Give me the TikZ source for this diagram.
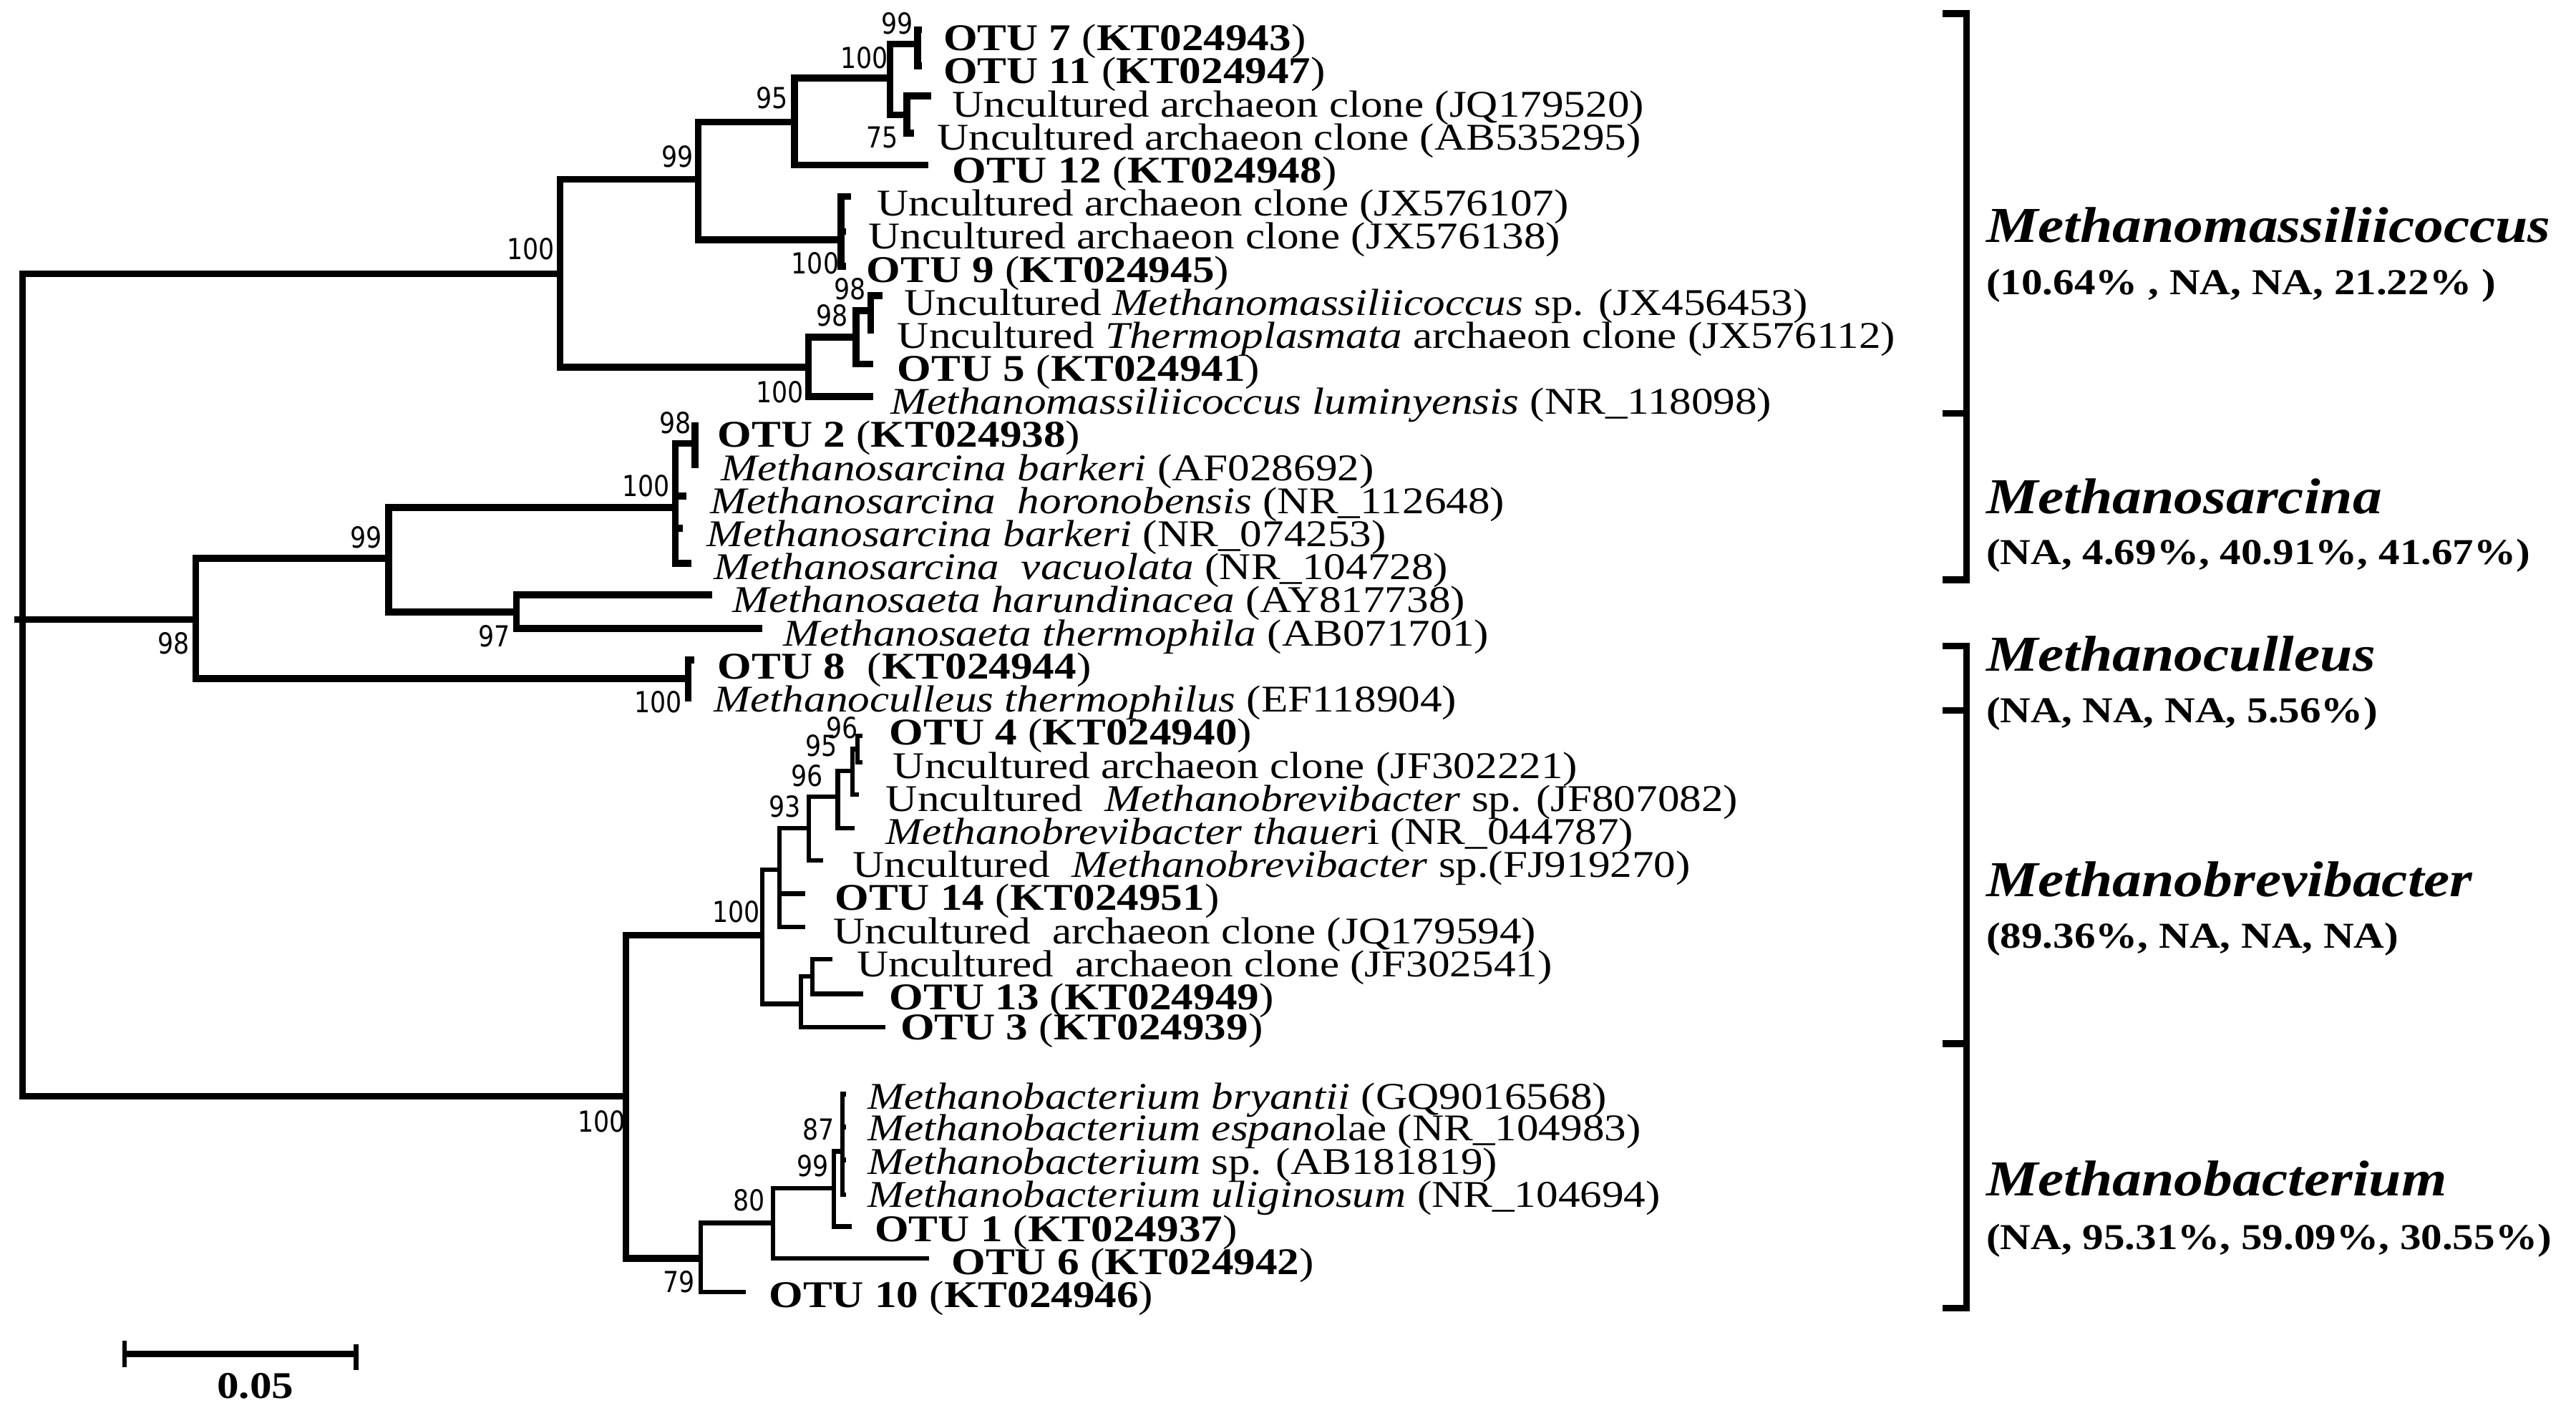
\documentclass[tikz,border=0pt]{standalone}
\usepackage{fontspec}
\setmainfont{Liberation Serif}[FakeStretch=1.16]
\newfontfamily\bootfont{DejaVu Sans}[FakeStretch=0.86]
\usetikzlibrary{positioning}

\tikzset{
  branch/.style={line width=2.7pt},
  twig/.style={line width=1.8pt},
  leaf/.style={anchor=base west, inner sep=0pt, font=\fontsize{15}{18}\selectfont},
  boot/.style={anchor=base east, inner sep=0pt, font=\bootfont\fontsize{11.5}{13}\selectfont},
  genus/.style={anchor=base west, inner sep=0pt, font=\fontsize{20}{24}\selectfont\bfseries\itshape},
  share/.style={anchor=base west, inner sep=0pt, font=\fontsize{14.5}{17}\selectfont\bfseries},
  scalelab/.style={anchor=base, inner sep=0pt, font=\fontsize{15}{18}\selectfont\bfseries}
}

\begin{document}
\begin{tikzpicture}[x=0.022953cm, y=-0.022953cm]
        \useasboundingbox (0,0) rectangle (1568,860);

        % Root
        \coordinate (root) at (13.7,377);

        % Methanomassiliicoccus clade
        \coordinate (a1) at (341,166.7);
        \coordinate (a2) at (425,109.2);
        \coordinate (a3) at (483.5,74.2);
        \coordinate (a4) at (541.8,47.5);
        \coordinate (a5) at (558.6,26.7);
        \coordinate (a6) at (552,70);
        \coordinate (a7) at (512,145.9);
        \coordinate (a8) at (492,223.4);
        \coordinate (a9) at (521,205.3);
        \coordinate (a10) at (530,189);
        \coordinate (otu7) at (561,18);
        \coordinate (otu11) at (561,40);
        \coordinate (jq179520) at (567,58.4);
        \coordinate (ab535295) at (556.5,81);
        \coordinate (otu12) at (565,100.5);
        \coordinate (jx576107) at (518,119.5);
        \coordinate (jx576138) at (515,141);
        \coordinate (otu9) at (515,162);
        \coordinate (jx456453) at (537,180);
        \coordinate (jx576112) at (532,201);
        \coordinate (otu5) at (531.6,221.5);
        \coordinate (nr118098) at (531.5,241.3);

        % Methanosarcina / Methanosaeta / Methanoculleus clade
        \coordinate (b1) at (119.2,377);
        \coordinate (b2) at (236.6,339.8);
        \coordinate (b3) at (411,309);
        \coordinate (b4) at (423,270);
        \coordinate (b5) at (314.3,372.5);
        \coordinate (b6) at (419,413);
        \coordinate (otu2) at (425,259);
        \coordinate (af028692) at (425,283);
        \coordinate (nr112648) at (418,302);
        \coordinate (nr074253) at (415.5,321.6);
        \coordinate (nr104728) at (421,342.8);
        \coordinate (ay817738) at (433.5,362);
        \coordinate (ab071701) at (464,382.6);
        \coordinate (otu8) at (422.7,401.6);
        \coordinate (ef118904) at (421,424.8);

        % Methanobrevibacter / Methanobacterium clade
        \coordinate (c1) at (381,667.3);
        \coordinate (c2) at (464,569.3);
        \coordinate (c3) at (474.4,529.4);
        \coordinate (c4) at (492.2,504);
        \coordinate (c5) at (510,485);
        \coordinate (c6) at (518.9,469.2);
        \coordinate (c7) at (521.9,456);
        \coordinate (c8) at (487.6,611);
        \coordinate (c9) at (494.4,594.4);
        \coordinate (c10) at (426.5,766);
        \coordinate (c11) at (470.6,744.3);
        \coordinate (c12) at (507.6,723.3);
        \coordinate (c13) at (512.7,700.8);
        \coordinate (otu4) at (525,448);
        \coordinate (jf302221) at (525,464);
        \coordinate (jf807082) at (523,483.7);
        \coordinate (nr044787) at (520,504);
        \coordinate (fj919270) at (501,523.6);
        \coordinate (otu14) at (490,544);
        \coordinate (jq179594) at (490,564.2);
        \coordinate (jf302541) at (506.8,583.9);
        \coordinate (otu13) at (525.5,604.9);
        \coordinate (otu3) at (538.9,625.3);
        \coordinate (gq9016568) at (515,666);
        \coordinate (nr104983) at (515,686);
        \coordinate (ab181819) at (515,706);
        \coordinate (nr104694) at (515,727);
        \coordinate (otu1) at (518.5,746.5);
        \coordinate (otu6) at (565.7,766);
        \coordinate (otu10) at (453.9,786.5);

        % Branches
        \draw[branch] (root) -- ++(-5,0);
        \draw[branch] (a1) -| (root) |- (c1);
        \draw[branch] (root) -- (b1);

        \draw[branch] (a2) -| (a1) |- (a8);
        \draw[branch] (a3) -| (a2) |- (a7);
        \draw[branch] (a4) -| (a3) |- (otu12);
        \draw[branch] (a5) -| (a4) |- (a6);
        \draw[branch] (otu7) -| (a5) |- (otu11);
        \draw[branch] (jq179520) -| (a6) |- (ab535295);
        \draw[branch] (jx576107) -| (a7) |- (otu9);
        \draw[branch] (a7 |- jx576138) -- (jx576138);
        \draw[branch] (a9) -| (a8) |- (nr118098);
        \draw[branch] (a10) -| (a9) |- (otu5);
        \draw[branch] (jx456453) -| (a10) |- (jx576112);

        \draw[branch] (b2) -| (b1) |- (b6);
        \draw[branch] (b3) -| (b2) |- (b5);
        \draw[branch] (b4) -| (b3) |- (nr104728);
        \draw[branch] (b3 |- nr112648) -- (nr112648);
        \draw[branch] (b3 |- nr074253) -- (nr074253);
        \draw[branch] (otu2) -| (b4) |- (af028692);
        \draw[branch] (ay817738) -| (b5) |- (ab071701);
        \draw[branch] (otu8) -| (b6) |- (ef118904);

        \draw[branch] (c2) -| (c1) |- (c10);
        \draw[twig] (c3) -| (c2) |- (c8);
        \draw[twig] (c4) -| (c3) |- (jq179594);
        \draw[twig] (c3 |- otu14) -- (otu14);
        \draw[twig] (c5) -| (c4) |- (fj919270);
        \draw[twig] (c6) -| (c5) |- (nr044787);
        \draw[twig] (c7) -| (c6) |- (jf807082);
        \draw[twig] (otu4) -| (c7) |- (jf302221);
        \draw[twig] (c9) -| (c8) |- (otu3);
        \draw[twig] (jf302541) -| (c9) |- (otu13);
        \draw[twig] (c11) -| (c10) |- (otu10);
        \draw[twig] (c12) -| (c11) |- (otu6);
        \draw[twig] (c13) -| (c12) |- (otu1);
        \draw[twig] (gq9016568) -| (c13) |- (nr104694);
        \draw[twig] (c13 |- nr104983) -- (nr104983);
        \draw[twig] (c13 |- ab181819) -- (ab181819);

        % Bootstrap values
        \node[boot] (s-a5) at (556,20.5) {99};
        \node[boot] (s-a4) at (541,41.5) {100};
        \node[boot] (s-a3) at (480,65.8) {95};
        \node[boot] (s-a6) at (547,90) {75};
        \node[boot] (s-a2) at (422.5,101.7) {99};
        \node[boot] (s-a1) at (338,158) {100};
        \node[boot] (s-a7) at (511,166.5) {100};
        \node[boot] (s-a10) at (527.5,182.5) {98};
        \node[boot] (s-a9) at (516.6,198.3) {98};
        \node[boot] (s-a8) at (489.5,245) {100};
        \node[boot] (s-b4) at (421,263.6) {98};
        \node[boot] (s-b3) at (408,302) {100};
        \node[boot] (s-b2) at (233,333.3) {99};
        \node[boot] (s-b5) at (310.7,393.6) {97};
        \node[boot] (s-b1) at (115.6,398) {98};
        \node[boot] (s-b6) at (415.5,433.6) {100};
        \node[boot] (s-c7) at (522.5,449.5) {96};
        \node[boot] (s-c6) at (510,460.4) {95};
        \node[boot] (s-c5) at (501,478.6) {96};
        \node[boot] (s-c4) at (487.8,497.4) {93};
        \node[boot] (s-c3) at (463,561.4) {100};
        \node[boot] (s-c1) at (381,689) {100};
        \node[boot] (s-c13) at (508.3,694) {87};
        \node[boot] (s-c12) at (504.7,716) {99};
        \node[boot] (s-c11) at (466,737) {80};
        \node[boot] (s-c10) at (423.4,786.5) {79};

        % Leaf labels
        \node[leaf] (l-otu7) at (574,30.8) {\textbf{OTU 7} (\textbf{KT024943})};
        \node[leaf] (l-otu11) at (574,50.9) {\textbf{OTU 11} (\textbf{KT024947})};
        \node[leaf] (l-jq179520) at (579.4,71.1) {Uncultured archaeon clone (JQ179520)};
        \node[leaf] (l-ab535295) at (570.2,91.2) {Uncultured archaeon clone (AB535295)};
        \node[leaf] (l-otu12) at (579.4,111.3) {\textbf{OTU 12} (\textbf{KT024948})};
        \node[leaf] (l-jx576107) at (533.5,131.4) {Uncultured archaeon clone (JX576107)};
        \node[leaf] (l-jx576138) at (528.5,151.5) {Uncultured archaeon clone (JX576138)};
        \node[leaf] (l-otu9) at (527.2,171.7) {\textbf{OTU 9} (\textbf{KT024945})};
        \node[leaf] (l-jx456453) at (550.2,191.8) {Uncultured \textit{Methanomassiliicoccus} sp. (JX456453)};
        \node[leaf] (l-jx576112) at (546,211.9) {Uncultured \textit{Thermoplasmata} archaeon clone (JX576112)};
        \node[leaf] (l-otu5) at (546,232) {\textbf{OTU 5} (\textbf{KT024941})};
        \node[leaf] (l-nr118098) at (541.8,252.2) {\textit{Methanomassiliicoccus luminyensis} (NR\_118098)};
        \node[leaf] (l-otu2) at (436.6,272.3) {\textbf{OTU 2} (\textbf{KT024938})};
        \node[leaf] (l-af028692) at (438.8,292.4) {\textit{Methanosarcina barkeri} (AF028692)};
        \node[leaf] (l-nr112648) at (432.2,312.6) {\textit{Methanosarcina\ \ horonobensis} (NR\_112648)};
        \node[leaf] (l-nr074253) at (430,332.7) {\textit{Methanosarcina barkeri} (NR\_074253)};
        \node[leaf] (l-nr104728) at (434.4,352.8) {\textit{Methanosarcina\ \ vacuolata} (NR\_104728)};
        \node[leaf] (l-ay817738) at (445.5,372.9) {\textit{Methanosaeta harundinacea} (AY817738)};
        \node[leaf] (l-ab071701) at (476.6,393.1) {\textit{Methanosaeta thermophila} (AB071701)};
        \node[leaf] (l-otu8) at (436.6,413.2) {\textbf{OTU 8}\ \ (\textbf{KT024944})};
        \node[leaf] (l-ef118904) at (434.4,433.3) {\textit{Methanoculleus thermophilus} (EF118904)};
        \node[leaf] (l-otu4) at (541.1,453.5) {\textbf{OTU 4} (\textbf{KT024940})};
        \node[leaf] (l-jf302221) at (543.4,473.6) {Uncultured archaeon clone (JF302221)};
        \node[leaf] (l-jf807082) at (539,493.7) {Uncultured\ \ \textit{Methanobrevibacter} sp. (JF807082)};
        \node[leaf] (l-nr044787) at (539,513.8) {\textit{Methanobrevibacter thauer}i (NR\_044787)};
        \node[leaf] (l-fj919270) at (518.9,534) {Uncultured\ \ \textit{Methanobrevibacter} sp.(FJ919270)};
        \node[leaf] (l-otu14) at (507.9,554.1) {\textbf{OTU 14} (\textbf{KT024951})};
        \node[leaf] (l-jq179594) at (507,574.3) {Uncultured\ \ archaeon clone (JQ179594)};
        \node[leaf] (l-jf302541) at (521.2,594.4) {Uncultured\ \ archaeon clone (JF302541)};
        \node[leaf] (l-otu13) at (541.1,614.5) {\textbf{OTU 13} (\textbf{KT024949})};
        \node[leaf] (l-otu3) at (547.8,633) {\textbf{OTU 3} (\textbf{KT024939})};
        \node[leaf] (l-gq9016568) at (527.8,675.2) {\textit{Methanobacterium bryantii} (GQ9016568)};
        \node[leaf] (l-nr104983) at (527.8,694.3) {\textit{Methanobacterium espano}lae (NR\_104983)};
        \node[leaf] (l-ab181819) at (527.8,714.6) {\textit{Methanobacterium} sp. (AB181819)};
        \node[leaf] (l-nr104694) at (527.8,734.9) {\textit{Methanobacterium uliginosum} (NR\_104694)};
        \node[leaf] (l-otu1) at (532.2,755.5) {\textbf{OTU 1} (\textbf{KT024937})};
        \node[leaf] (l-otu6) at (578.9,775.6) {\textbf{OTU 6} (\textbf{KT024942})};
        \node[leaf] (l-otu10) at (467.8,795.7) {\textbf{OTU 10} (\textbf{KT024946})};

        % Scale bar
        \coordinate (sb1) at (75.9,824);
        \coordinate (sb2) at (216.8,824);
        \draw[branch] (sb1) -- (sb2);
        \draw[twig] (sb1) ++(0,-8) -- ++(0,16);
        \draw[twig] (sb2) ++(0,-6) -- ++(0,16);
        \node[scalelab] (sblab) at (155.5,851) {0.05};

        % Genus brackets
        \draw[branch] (1182.4,8.3) -- (1197,8.3) -- (1197,353) -- (1182.4,353);
        \draw[branch] (1182.4,251.5) -- (1197,251.5);
        \draw[branch] (1182.4,393.2) -- (1197,393.2) -- (1197,796.3) -- (1182.4,796.3);
        \draw[branch] (1182.4,432.4) -- (1197,432.4);
        \draw[branch] (1182.4,635.2) -- (1197,635.2);

        \node[genus] (g-mmc) at (1208.7,147.3) {Methanomassiliicoccus};
        \node[share] (p-mmc) at (1208.7,179.5) {(10.64\% , NA, NA, 21.22\% )};
        \node[genus] (g-msc) at (1208.7,312.6) {Methanosarcina};
        \node[share] (p-msc) at (1208.7,343.7) {(NA, 4.69\%, 40.91\%, 41.67\%)};
        \node[genus] (g-mcu) at (1208.7,408.5) {Methanoculleus};
        \node[share] (p-mcu) at (1208.7,439.9) {(NA, NA, NA, 5.56\%)};
        \node[genus] (g-mbv) at (1208.7,545.8) {Methanobrevibacter};
        \node[share] (p-mbv) at (1208.7,577) {(89.36\%, NA, NA, NA)};
        \node[genus] (g-mbc) at (1208.7,727.7) {Methanobacterium};
        \node[share] (p-mbc) at (1208.7,760.5) {(NA, 95.31\%, 59.09\%, 30.55\%)};
\end{tikzpicture}
\end{document}
